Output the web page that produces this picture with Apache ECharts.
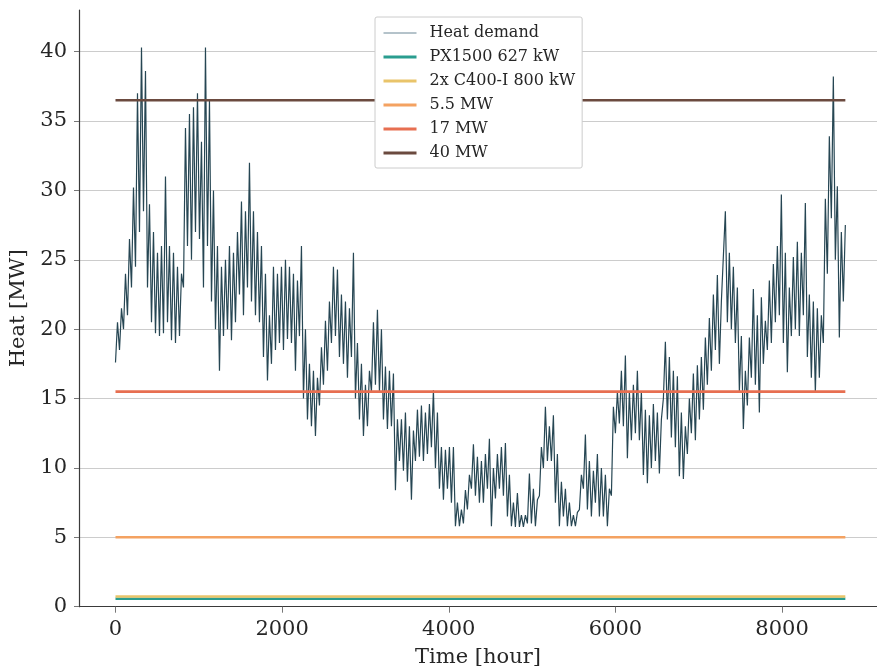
<!DOCTYPE html>
<html style="height: 100%">
<head>
<meta charset="utf-8">
<script src="https://cdn.jsdelivr.net/npm/echarts@6/dist/echarts.min.js"></script>
</head>
<body style="height: 100%; margin: 0; background: #fff;">
<div id="container" style="width: 877px; height: 666px"></div>
<script type="text/javascript">

// heat demand, one value per 24 h, alternating daily low / high
var stepHours = 24;
var heatDemand = [
    17.6, 20.5, 18.5, 21.5, 20, 24, 21, 26.5, 23, 30.2, 24.5, 37, 27, 40.3, 28.5, 38.6, 23, 29, 20.5, 27,
    19.7, 25.5, 19.5, 26, 19.7, 31, 20.5, 26, 19.2, 25.5, 19, 24.5, 19.5, 24, 23, 34.5, 26, 35.5, 25, 36,
    27, 37, 26.5, 33.5, 23, 40.3, 26, 36.5, 22, 30, 20, 26, 17, 24.5, 19.5, 25, 20, 26, 19.2, 25.5,
    20.5, 27, 22.5, 29.2, 21, 28.5, 23, 32, 22, 28.5, 21, 27, 20.5, 26, 18, 24, 16.3, 21, 17.5, 24.5,
    18.5, 24, 19, 24.5, 18.5, 25, 19.3, 24.5, 19, 24, 17, 23.5, 19.5, 26, 15, 20, 13.5, 17.5, 13, 17,
    12.3, 16.5, 14.5, 18.7, 16, 20.6, 17, 22, 19, 24.5, 19.5, 24.3, 18, 22.5, 17.5, 22, 16.5, 21.5, 18, 25.5,
    15, 19, 13.5, 17.5, 12.3, 16, 13, 17, 15.5, 20.5, 16, 21.4, 15.5, 20, 13.5, 17.3, 12.8, 17, 13, 16.8,
    8.4, 13.5, 10.5, 13.5, 9.8, 14, 9, 13, 7.7, 12.7, 10.5, 14.2, 10.8, 14.5, 10.5, 14, 11, 14.6, 11.5, 15.6,
    10, 14, 8.5, 11.5, 7.7, 11.3, 8.5, 11.5, 7.5, 11.5, 5.8, 7.5, 5.8, 7, 6, 8.4, 7, 9.5, 8.5, 11.7,
    8, 10.8, 7.5, 10.5, 7.5, 11, 8.5, 12.1, 5.8, 10, 7.8, 11, 8.5, 11.5, 8, 11.8, 6.5, 9.5, 5.8, 7.5,
    5.75, 8.2, 5.75, 6.6, 5.75, 6.6, 6, 9.6, 6, 8.5, 5.8, 7.7, 8, 11.5, 10, 14.4, 10.5, 13, 10.5, 13.8,
    7.5, 11, 5.8, 9, 6.5, 8.5, 5.8, 7.5, 5.8, 6.6, 5.8, 6.8, 7, 9.5, 8.5, 12.4, 7, 10.5, 6.5, 9.8,
    7.5, 11, 6.5, 10, 6.5, 9.5, 5.8, 8.5, 8, 14.4, 12.5, 15.5, 13.2, 17, 13, 18.1, 10.7, 15.5, 12, 16,
    12.5, 17, 12, 15.5, 9.5, 14.2, 8.9, 13.8, 10, 14.6, 10.5, 14, 9.6, 13.5, 15, 19.1, 13.5, 18, 12.2, 17,
    11.5, 16.6, 9.4, 14, 9.2, 13, 11, 15, 12.5, 16.8, 12, 17.4, 13.5, 18, 14.2, 19.4, 16, 20.8, 17, 22.5,
    18.5, 23.9, 17.5, 22, 22, 28.5, 20.5, 25.5, 20, 24.5, 19, 23, 15.5, 19.5, 12.8, 17, 14.5, 19.4, 16.5, 22.9,
    16, 21, 14, 22.3, 17.5, 20.6, 18.5, 23.5, 19, 24.7, 20.5, 26, 21, 29.7, 19, 25.5, 16.9, 23, 19.5, 25.2,
    20, 26.3, 19.5, 25.5, 21, 29.1, 18, 22.5, 16.5, 22, 15.4, 21.5, 16.5, 21, 19, 29.4, 24, 33.9, 28, 38.2,
    25, 30.3, 19.4, 27, 22, 27.5
];

// capacity lines (MW) and their names / colours
var capacityNames = ['PX1500 627 kW', '2x C400-I 800 kW', '5.5 MW', '17 MW', '40 MW'];
var capacityLevels = [0.57, 0.73, 5.0, 15.5, 36.5];
var capacityColors = ['#2a9d8f', '#e9c46a', '#f4a261', '#e76f51', '#6b4a3f'];
var yearHours = 8760;

var xTicks = [0, 2000, 4000, 6000, 8000];
var yTicks = [0, 5, 10, 15, 20, 25, 30, 35, 40];

var font = 'DejaVu Serif';
var dom = document.getElementById("container");
var myChart = echarts.init(dom);

var series = [{
    name: 'Heat demand',
    type: 'line',
    data: heatDemand.map(function (v, i) { return [i * stepHours, v]; }),
    showSymbol: false,
    symbol: 'none',
    lineStyle: { color: '#264653', width: 1.2 },
    itemStyle: { color: '#264653' },
    emphasis: { disabled: true },
    z: 2
}];
for (var i = 0; i < capacityNames.length; i++) {
    series.push({
        name: capacityNames[i],
        type: 'line',
        data: [[0, capacityLevels[i]], [yearHours, capacityLevels[i]]],
        showSymbol: false,
        symbol: 'none',
        lineStyle: { color: capacityColors[i], width: 2.6 },
        itemStyle: { color: capacityColors[i] },
        emphasis: { disabled: true },
        z: 3
    });
}

var legendData = [{ name: 'Heat demand', lineStyle: { width: 1, color: '#6a8796' } }];
capacityNames.forEach(function (n, i) {
    legendData.push({ name: n, lineStyle: { width: 3, color: capacityColors[i] } });
});

var option = {
    animation: false,
    backgroundColor: '#fff',
    grid: { left: 79, right: 0, top: 10, bottom: 59.3, outerBoundsMode: 'none', containLabel: false },
    legend: {
        data: legendData,
        orient: 'vertical',
        left: 375,
        top: 17,
        padding: [8, 7, 7, 7],
        itemWidth: 33,
        itemHeight: 14,
        itemGap: 8,
        itemStyle: { opacity: 0 },
        backgroundColor: '#fff',
        borderColor: '#cccccc',
        borderWidth: 1,
        borderRadius: 2,
        textStyle: { fontFamily: font, fontSize: 16, color: '#262626', padding: [0, 0, 0, 8] }
    },
    xAxis: {
        type: 'value',
        min: -438,
        max: 9140,
        name: 'Time [hour]',
        nameLocation: 'middle',
        nameGap: 40,
        nameTextStyle: { fontFamily: font, fontSize: 21, color: '#262626' },
        axisLine: { show: true, onZero: false, lineStyle: { color: '#3a3a3a', width: 1.2 } },
        axisTick: { show: true, length: 6, customValues: xTicks, lineStyle: { color: '#777' } },
        axisLabel: {
            customValues: xTicks, margin: 12, fontFamily: font, fontSize: 21, color: '#262626',
            formatter: function (v) { return String(v); }
        },
        splitLine: { show: false }
    },
    yAxis: {
        type: 'value',
        min: 0,
        max: 43,
        name: 'Heat [MW]',
        nameLocation: 'middle',
        nameGap: 43,
        nameTextStyle: { fontFamily: font, fontSize: 21, color: '#262626' },
        axisLine: { show: true, onZero: false, lineStyle: { color: '#3a3a3a', width: 1.2 } },
        axisTick: { show: true, length: 5, customValues: yTicks, lineStyle: { color: '#777' } },
        axisLabel: { customValues: yTicks, margin: 12, fontFamily: font, fontSize: 21, color: '#262626' },
        splitLine: { show: true, lineStyle: { color: '#cccccc', width: 1 } }
    },
    series: series
};

if (option && typeof option === "object") {
    myChart.setOption(option, true);
}
</script>
</body>
</html>
